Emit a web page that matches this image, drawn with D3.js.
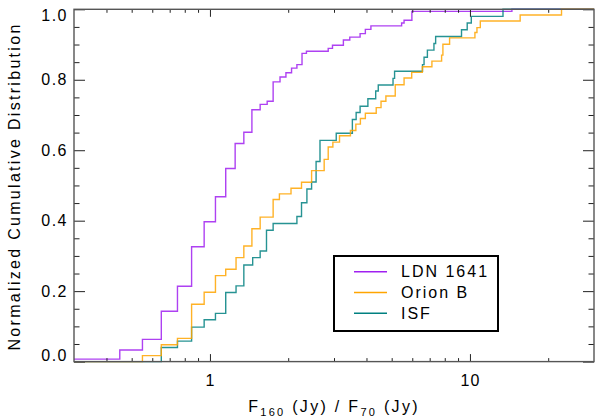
<!DOCTYPE html>
<meta charset="utf-8">
<head>
<script src="https://d3js.org/d3.v7.min.js"></script>
<style>
  body { margin: 0; background: #fff; }
  svg text { font-family: "Liberation Sans", Arial, Helvetica, sans-serif; fill: #000; }
</style>
</head>
<body>
<div class="viz"></div>
<script>
// step CDFs: x = F160/F70 at each step, y = level after the step
var ldnStart = 0.007;
var ldnX = [0.45, 0.55, 0.65, 0.75, 0.85, 0.95, 1.05, 1.15, 1.25, 1.35, 1.45, 1.56, 1.66, 1.75, 1.86, 1.96,
            2.06, 2.16, 2.26, 2.35, 2.85, 2.96, 3.26, 3.45, 3.78, 3.96, 4.16, 5.46, 5.58, 5.98, 14.5];
var ldnY = [0.033, 0.063, 0.143, 0.214, 0.326, 0.397, 0.468, 0.548, 0.619, 0.651, 0.715, 0.730, 0.739, 0.794, 0.808, 0.820,
            0.833, 0.843, 0.875, 0.881, 0.889, 0.898, 0.913, 0.921, 0.931, 0.943, 0.953, 0.961, 0.969, 0.994, 1.0];

var orionStart = 0;
var orionX = [0.55, 0.65, 0.75, 0.85, 0.95, 1.05, 1.15, 1.26, 1.35, 1.45, 1.56, 1.75, 1.85, 2.05, 2.25, 2.46,
              2.75, 2.85, 2.97, 3.15, 3.47, 3.64, 3.79, 3.96, 4.36, 4.55, 4.75, 5.16, 5.58, 5.97, 6.56, 7.14,
              7.78, 7.87, 8.35, 10.45, 10.64, 10.96, 15.6, 22.5];
var orionY = [0.017, 0.048, 0.066, 0.163, 0.197, 0.244, 0.262, 0.295, 0.328, 0.377, 0.410, 0.460, 0.476, 0.492, 0.509, 0.542,
              0.574, 0.609, 0.623, 0.641, 0.656, 0.674, 0.690, 0.705, 0.721, 0.739, 0.754, 0.786, 0.805, 0.821, 0.837, 0.853,
              0.870, 0.901, 0.919, 0.934, 0.948, 0.967, 0.984, 1.0];

var isfStart = 0;
var isfX = [0.65, 0.75, 0.85, 0.95, 1.05, 1.15, 1.26, 1.35, 1.46, 1.56, 1.65, 1.75, 2.16, 2.25, 2.36, 2.46,
            2.56, 2.65, 3.06, 3.53, 3.65, 3.78, 4.05, 4.34, 4.44, 5.06, 5.13, 6.57, 6.66, 6.86, 7.27, 7.38,
            9.28, 9.76, 10.12, 13.4];
var isfY = [0.040, 0.058, 0.098, 0.119, 0.137, 0.196, 0.215, 0.274, 0.295, 0.314, 0.373, 0.392, 0.412, 0.451, 0.490, 0.510,
            0.568, 0.628, 0.648, 0.687, 0.707, 0.725, 0.746, 0.768, 0.785, 0.804, 0.824, 0.843, 0.864, 0.884, 0.903, 0.923,
            0.942, 0.961, 0.980, 1.0];

var seriesNames = ["LDN 1641", "Orion B", "ISF"];
var seriesColors = ["#a020f0", "#ffa500", "#008080"];

var xMajor = [1, 10];
var xMinor = [0.4, 0.5, 0.6, 0.7, 0.8, 0.9, 2, 3, 4, 5, 6, 7, 8, 9, 20];
var yMajor = [0, 0.2, 0.4, 0.6, 0.8, 1.0];
var yMinor = [0.05, 0.1, 0.15, 0.25, 0.3, 0.35, 0.45, 0.5, 0.55, 0.65, 0.7, 0.75, 0.85, 0.9, 0.95];

var width = 595, height = 417;
var pLeft = 74, pRight = 594, pTop = 9.3, pBottom = 361.6;

var x = d3.scaleLog().domain([0.3, 30]).range([pLeft, pRight]);
var y = d3.scaleLinear().domain([0, 1]).range([pBottom, pTop]);

var svg = d3.select("div.viz").append("svg")
    .attr("width", width)
    .attr("height", height);

svg.append("defs").append("clipPath").attr("id", "plotclip")
    .append("rect")
    .attr("x", pLeft).attr("y", pTop - 2)
    .attr("width", pRight - pLeft).attr("height", pBottom - pTop + 4);

function build(start, xs, ys) {
    var pts = [[0.3, start]];
    xs.forEach(function(v, i) { pts.push([v, ys[i]]); });
    pts.push([30, ys[ys.length - 1]]);
    return pts;
}

var series = [
    build(ldnStart, ldnX, ldnY),
    build(orionStart, orionX, orionY),
    build(isfStart, isfX, isfY)
];

var line = d3.line()
    .x(function(d) { return x(d[0]); })
    .y(function(d) { return y(d[1]); })
    .curve(d3.curveStepAfter);

var lines = svg.append("g").attr("clip-path", "url(#plotclip)");
[0, 2, 1].forEach(function(i) {
    lines.append("path")
        .attr("d", line(series[i]))
        .attr("fill", "none")
        .attr("stroke", seriesColors[i])
        .attr("stroke-width", 1.4)
        .attr("stroke-opacity", 0.85);
});

// axes, ticks pointing inward
function tickAxis(axis, pos, vals, size, labels) {
    var a = axis.tickValues(vals).tickSize(-size);
    if (!labels) a.tickFormat("");
    var g = svg.append("g").attr("transform", pos).call(a);
    g.select(".domain").remove();
    g.selectAll(".tick line").attr("stroke", "#222").attr("stroke-width", 1);
    g.selectAll("text").style("font-size", "16px").attr("fill", "#000");
    return g;
}

tickAxis(d3.axisBottom(x).tickPadding(13).tickFormat(d3.format("d")), "translate(0," + pBottom + ")", xMajor, 7.5, true)
    .selectAll("text").style("letter-spacing", "1px");
tickAxis(d3.axisBottom(x), "translate(0," + pBottom + ")", xMinor, 3.5, false);
tickAxis(d3.axisTop(x), "translate(0," + pTop + ")", xMajor, 7.5, false);
tickAxis(d3.axisTop(x), "translate(0," + pTop + ")", xMinor, 3.5, false);

var yl = tickAxis(d3.axisLeft(y).tickPadding(6).tickFormat(d3.format(".1f")), "translate(" + pLeft + ",0)", yMajor, 11, true);
tickAxis(d3.axisLeft(y), "translate(" + pLeft + ",0)", yMinor, 5.5, false);
tickAxis(d3.axisRight(y), "translate(" + pRight + ",0)", yMajor, 11, false);
tickAxis(d3.axisRight(y), "translate(" + pRight + ",0)", yMinor, 5.5, false);

yl.selectAll("text").style("letter-spacing", "1.5px");
// edge labels are pulled inside the frame
yl.selectAll(".tick").filter(function(d) { return d === 0; }).select("text").attr("dy", "-0.1em");
yl.selectAll(".tick").filter(function(d) { return d === 1; }).select("text").attr("dy", "0.7em");

svg.append("rect")
    .attr("x", pLeft).attr("y", pTop)
    .attr("width", pRight - pLeft).attr("height", pBottom - pTop)
    .attr("fill", "none")
    .attr("stroke", "#555")
    .attr("stroke-width", 1.4);

// axis titles
var xt = svg.append("text")
    .attr("x", (pLeft + pRight) / 2)
    .attr("y", 412)
    .attr("text-anchor", "middle")
    .style("font-size", "16px")
    .style("letter-spacing", "2.3px");
xt.append("tspan").text("F");
xt.append("tspan").attr("dy", 4).style("font-size", "11px").text("160");
xt.append("tspan").attr("dy", -4).text(" (Jy) / F");
xt.append("tspan").attr("dy", 4).style("font-size", "11px").text("70");
xt.append("tspan").attr("dy", -4).text(" (Jy)");

svg.append("text")
    .attr("transform", "translate(20," + ((pTop + pBottom) / 2 + 1) + ") rotate(-90)")
    .attr("text-anchor", "middle")
    .style("font-size", "16px")
    .style("letter-spacing", "2.3px")
    .text("Normalized Cumulative Distribution");

// legend
var lg = svg.append("g").attr("transform", "translate(334,256)");
lg.append("rect")
    .attr("width", 164).attr("height", 75)
    .attr("fill", "#fff")
    .attr("stroke", "#000")
    .attr("stroke-width", 2);
seriesNames.forEach(function(n, i) {
    var yy = 15.7 + i * 20.8;
    lg.append("line")
        .attr("x1", 20).attr("x2", 53)
        .attr("y1", yy).attr("y2", yy)
        .attr("stroke", seriesColors[i])
        .attr("stroke-width", 1.4);
    lg.append("text")
        .attr("x", 67).attr("y", yy)
        .attr("dy", "0.36em")
        .style("font-size", "16px")
        .style("letter-spacing", "2px")
        .text(n);
});
</script>
</body>
